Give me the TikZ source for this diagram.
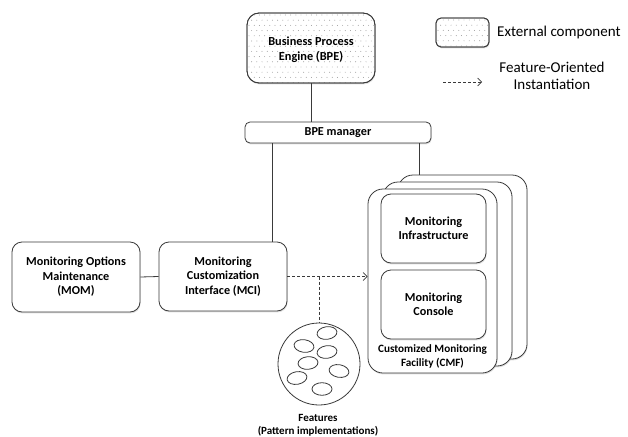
\documentclass[tikz,border=0pt]{standalone}
\usepackage{fontspec}
\setmainfont{Carlito}
\usetikzlibrary{arrows.meta,shadows,calc}
\definecolor{ln}{HTML}{3A3A3A}
\definecolor{dotc}{HTML}{8A8A8A}
\begin{document}
\begin{tikzpicture}[x=1pt,y=-1pt,
  box/.style={draw=ln, line width=0.8pt, fill=white, rounded corners=#1, align=center,
    font=\fontsize{12.2}{14.5}\selectfont\bfseries, inner sep=0pt,
    drop shadow={opacity=0.25, shadow xshift=0.6pt, shadow yshift=-1.4pt}},
  box/.default=10pt,
  conn/.style={draw=ln, line width=0.8pt},
  fdash/.style={draw=ln, line width=0.7pt, dashed, dash pattern=on 3pt off 2pt},
  plain/.style={align=center, inner sep=0pt}]
\useasboundingbox (0,0) rectangle (628,436);

% BPE (external)
\node[box=12pt, minimum width=128pt, minimum height=70pt] (bpe) at (311,48) {};
\begin{scope}
  \clip[rounded corners=12pt] (247,13) rectangle (375,83);
  \foreach \j in {0,...,14} {
    \foreach \i in {0,...,25} {
      \pgfmathsetmacro{\xx}{249+\i*5.2+mod(\j,2)*2.6}
      \fill[dotc] (\xx,15+\j*5.2) circle (0.45pt);
    }
  }
\end{scope}
\draw[draw=ln, line width=0.8pt, rounded corners=12pt] (247,13) rectangle (375,83);
\node[plain, font=\fontsize{12.3}{15}\selectfont\bfseries] (bpet) at (311,50) {Business Process\\Engine (BPE)};

% legend
\node[box=5pt, minimum width=53pt, minimum height=29pt] (leg) at (462.5,32.5) {};
\begin{scope}
  \clip[rounded corners=5pt] (436,18) rectangle (489,47);
  \foreach \j in {0,...,6} {
    \foreach \i in {0,...,11} {
      \pgfmathsetmacro{\xx}{438+\i*5.2+mod(\j,2)*2.6}
      \fill[dotc] (\xx,20+\j*5.2) circle (0.45pt);
    }
  }
\end{scope}
\draw[draw=ln, line width=0.8pt, rounded corners=5pt] (436,18) rectangle (489,47);
\node[plain, anchor=west, font=\fontsize{15}{17}\selectfont] (legt) at (497,33) {External component};
\coordinate (la) at (443,82);
\coordinate (lb) at (482,82);
\draw[fdash, -{Straight Barb[length=4pt,width=8pt]}] (la) -- (lb);
\node[plain, font=\fontsize{15}{17}\selectfont] (legt2) at (552,76) {Feature-Oriented\\Instantiation};

% BPE manager
\node[box=5pt, minimum width=186pt, minimum height=21pt] (bpem) at (338,132.5) {BPE manager};

% MOM, MCI
\node[box, minimum width=128pt, minimum height=70pt] (mom) at (76,277) {Monitoring Options\\Maintenance\\(MOM)};
\node[box, minimum width=128pt, minimum height=69pt] (mci) at (223,276.5) {Monitoring\\Customization\\Interface (MCI)};

% CMF stack
\node[box=15pt, minimum width=129pt, minimum height=184pt] (cmf3) at (462.5,267) {};
\node[box=15pt, minimum width=129pt, minimum height=184pt] (cmf2) at (447.5,274) {};
\node[box=15pt, minimum width=129pt, minimum height=184pt] (cmf) at (432.5,281) {};
\node[box, minimum width=105pt, minimum height=69pt] (infra) at (433.5,228.5) {Monitoring\\Infrastructure};
\node[box, minimum width=105pt, minimum height=69pt] (cons) at (433.5,304.5) {Monitoring\\Console};
\node[plain, font=\fontsize{11.2}{14}\selectfont\bfseries] (cmft) at (432.5,356) {Customized Monitoring\\Facility (CMF)};

% features
\node[draw=ln, line width=0.8pt, circle, minimum size=82pt, inner sep=0pt, fill=white] (feats) at (319,364) {};
\foreach \n/\px/\py/\r in {f1/327/333/8, f2/304/346/-8, f3/327/352/8, f4/308/363/5, f5/339/371/-10, f6/297/378/10, f7/322/389/0} {
  \draw[ln, line width=0.8pt, rotate around={\r:(\px,\py)}] (\px,\py) ellipse (10pt and 6.3pt);
}
\node[plain, font=\fontsize{11}{13}\selectfont\bfseries] (featt) at (318,425) {Features\\(Pattern implementations)};

% connectors
\coordinate (x1) at (272,0);
\coordinate (x2) at (419,0);
\draw[conn] (bpe.south |- bpe.south) -- (bpe.south |- bpem.north);
\draw[conn] (bpem.south -| x1) -- (mci.north -| x1);
\draw[conn] (bpem.south -| x2) -- (cmf3.north -| x2);
\draw[conn] (mom.east) -- (mci.west);
\draw[fdash, -{Straight Barb[length=4pt,width=8pt]}] (mci.east) -- (cmf.west |- mci.east);
\coordinate (dj) at (319,276.5);
\draw[fdash] (dj) -- (feats.north);
\end{tikzpicture}
\end{document}
